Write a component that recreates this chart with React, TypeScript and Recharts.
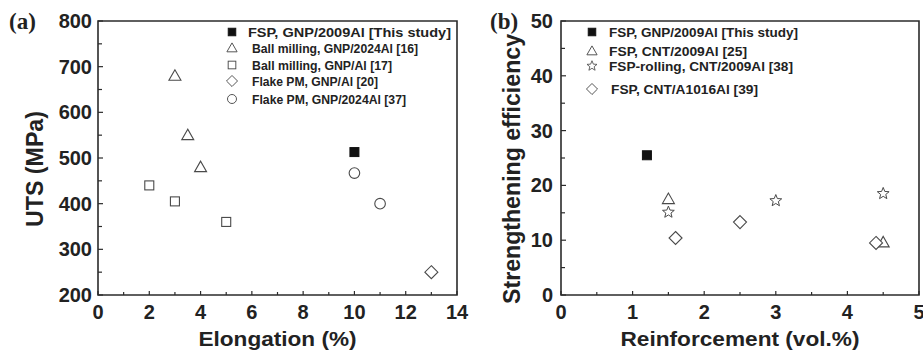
import React from 'react';
import { ScatterChart, Scatter, XAxis, YAxis, ReferenceArea, Legend } from 'recharts';

// ---------- Data: panel (a) ----------
const fspA = [{ x: 10, y: 513 }];
const ballMill2024 = [{ x: 3, y: 680 }, { x: 3.5, y: 550 }, { x: 4, y: 480 }];
const ballMillAl = [{ x: 2, y: 440 }, { x: 3, y: 405 }, { x: 5, y: 360 }];
const flakeAl = [{ x: 13, y: 250 }];
const flake2024 = [{ x: 10, y: 467 }, { x: 11, y: 400 }];
const namesA = [
  'FSP, GNP/2009Al [This study]',
  'Ball milling, GNP/2024Al [16]',
  'Ball milling, GNP/Al [17]',
  'Flake PM, GNP/Al [20]',
  'Flake PM, GNP/2024Al [37]',
];
const xMajorA = [0, 2, 4, 6, 8, 10, 12, 14];
const xMinorA = [1, 3, 5, 7, 9, 11, 13];
const yMajorA = [200, 300, 400, 500, 600, 700, 800];
const yMinorA = [250, 350, 450, 550, 650, 750];

// ---------- Data: panel (b) ----------
const fspB = [{ x: 1.2, y: 25.5 }];
const fspCnt2009 = [{ x: 1.5, y: 17.5 }, { x: 4.5, y: 9.6 }];
const fspRolling = [{ x: 1.5, y: 15.1 }, { x: 3, y: 17.2 }, { x: 4.5, y: 18.5 }];
const fspA1016 = [{ x: 1.6, y: 10.4 }, { x: 2.5, y: 13.3 }, { x: 4.4, y: 9.5 }];
const namesB = [
  'FSP, GNP/2009Al [This study]',
  'FSP, CNT/2009Al [25]',
  'FSP-rolling, CNT/2009Al [38]',
  'FSP, CNT/A1016Al [39]',
];
const xMajorB = [0, 1, 2, 3, 4, 5];
const xMinorB = [0.5, 1.5, 2.5, 3.5, 4.5];
const yMajorB = [0, 10, 20, 30, 40, 50];
const yMinorB = [5, 15, 25, 35, 45];

const FONT = '"Liberation Sans", Arial, Helvetica, sans-serif';
const SERIF = '"Liberation Serif", "Times New Roman", serif';
const INK = '#222';
const AXIS = '#2b2b2b';
const MARK = '#4a4a4a';

// ---------- Marker shapes ----------
type ShapeKind = 'fsquare' | 'square' | 'triangle' | 'diamond' | 'circle' | 'star';

function Marker({ kind, cx, cy }: { kind: ShapeKind; cx: number; cy: number }) {
  const sw = 1.1;
  switch (kind) {
    case 'fsquare':
      return <rect x={cx - 4.5} y={cy - 4.5} width={9} height={9} fill="#111" stroke="#111" />;
    case 'square':
      return <rect x={cx - 4.5} y={cy - 4.5} width={9} height={9} fill="#fff" stroke={MARK} strokeWidth={sw} />;
    case 'triangle':
      return (
        <polygon
          points={`${cx},${cy - 6} ${cx - 6},${cy + 4.5} ${cx + 6},${cy + 4.5}`}
          fill="#fff"
          stroke={MARK}
          strokeWidth={sw}
        />
      );
    case 'diamond':
      return (
        <polygon
          points={`${cx},${cy - 6.5} ${cx + 6.5},${cy} ${cx},${cy + 6.5} ${cx - 6.5},${cy}`}
          fill="#fff"
          stroke={MARK}
          strokeWidth={sw}
        />
      );
    case 'circle':
      return <circle cx={cx} cy={cy} r={5.3} fill="#fff" stroke={MARK} strokeWidth={sw} />;
    case 'star': {
      const pts: string[] = [];
      for (let i = 0; i < 10; i++) {
        const r = i % 2 === 0 ? 6.2 : 2.7;
        const a = -Math.PI / 2 + (i * Math.PI) / 5;
        pts.push(`${cx + r * Math.cos(a)},${cy + r * Math.sin(a)}`);
      }
      return <polygon points={pts.join(' ')} fill="#fff" stroke={MARK} strokeWidth={1} />;
    }
  }
  return null;
}

const shapeOf = (kind: ShapeKind) => (props: any) => <Marker kind={kind} cx={props.cx} cy={props.cy} />;

// ---------- Custom ticks (inward, major + minor) ----------
function XTick(props: any) {
  const { x, y, payload, majors } = props;
  const v = payload.value;
  const isMajor = majors.includes(v);
  return (
    <g>
      <line x1={x} x2={x} y1={y} y2={y - (isMajor ? 4 : 3)} stroke={AXIS} strokeWidth={1.2} />
      {isMajor && (
        <text x={x} y={y + 24} textAnchor="middle" fontFamily={FONT} fontWeight="bold" fontSize={20} fill={INK}>
          {v}
        </text>
      )}
    </g>
  );
}

function YTick(props: any) {
  const { x, y, payload, majors, gap } = props;
  const v = payload.value;
  const isMajor = majors.includes(v);
  return (
    <g>
      <line x1={x} x2={x + (isMajor ? 5 : 4)} y1={y} y2={y} stroke={AXIS} strokeWidth={1.2} />
      {isMajor && (
        <text x={x - gap} y={y + 7} textAnchor="end" fontFamily={FONT} fontWeight="bold" fontSize={20} fill={INK}>
          {v}
        </text>
      )}
    </g>
  );
}

// ---------- Legend ----------
type LegendItem = { name: string; kind: ShapeKind; len: number };

function LegendSvg({
  items,
  symX,
  textX,
  rows,
  w,
  h,
  fs,
}: {
  items: LegendItem[];
  symX: number;
  textX: number[];
  rows: number[];
  w: number;
  h: number;
  fs: number;
}) {
  return (
    <svg width={w} height={h} style={{ position: 'absolute', left: 0, top: 0, overflow: 'visible' }}>
      {items.map((it, i) => (
        <g key={i}>
          <g transform={`translate(${symX}, ${rows[i]}) scale(0.85) translate(${-symX}, ${-rows[i]})`}>
            <Marker kind={it.kind} cx={symX} cy={rows[i]} />
          </g>
          <text
            x={textX[i]}
            y={rows[i] + 4.5}
            fontFamily={FONT}
            fontWeight="bold"
            fontSize={fs}
            fill={INK}
            textLength={it.len}
            lengthAdjust="spacingAndGlyphs"
          >
            {it.name}
          </text>
        </g>
      ))}
    </svg>
  );
}

function YTitle({ vb, dx, dy, text, len, tag, tagX }: any) {
  const cx = vb.x + dx;
  const cy = vb.y + vb.height / 2 + dy;
  return (
    <g>
      <text
        x={cx}
        y={cy}
        transform={`rotate(-90, ${cx}, ${cy})`}
        textAnchor="middle"
        dominantBaseline="central"
        fontFamily={FONT}
        fontWeight="bold"
        fontSize={23}
        fill={INK}
        textLength={len}
        lengthAdjust="spacingAndGlyphs"
      >
        {text}
      </text>
      <text x={vb.x + tagX} y={29} fontFamily={SERIF} fontWeight="bold" fontSize={23} fill={INK}>
        {tag}
      </text>
    </g>
  );
}

function XTitle({ vb, text, len }: any) {
  return (
    <text
      x={vb.x + vb.width / 2}
      y={vb.y + 51}
      textAnchor="middle"
      fontFamily={FONT}
      fontWeight="bold"
      fontSize={20}
      fill={INK}
      textLength={len}
      lengthAdjust="spacingAndGlyphs"
    >
      {text}
    </text>
  );
}

const WA = 480;
const WB = 463;
const H = 357;

function PanelA() {
  const legendItems: LegendItem[] = [
    { name: namesA[0], kind: 'fsquare', len: 203 },
    { name: namesA[1], kind: 'triangle', len: 166 },
    { name: namesA[2], kind: 'square', len: 140 },
    { name: namesA[3], kind: 'diamond', len: 126 },
    { name: namesA[4], kind: 'circle', len: 154 },
  ];
  return (
    <ScatterChart width={WA} height={H} margin={{ top: 21, right: WA - 457, bottom: 0, left: 0 }}>
      <XAxis
        type="number"
        dataKey="x"
        domain={[0, 14]}
        ticks={[...xMajorA, ...xMinorA].sort((a, b) => a - b)}
        interval={0}
        tickSize={0}
        tickMargin={0}
        tickLine={false}
        axisLine={false}
        height={62}
        allowDataOverflow
        tick={(p: any) => <XTick {...p} majors={xMajorA} />}
        label={{ content: (p: any) => <XTitle vb={p.viewBox} text="Elongation (%)" len={158} /> }}
      />
      <YAxis
        type="number"
        dataKey="y"
        domain={[200, 800]}
        ticks={[...yMajorA, ...yMinorA].sort((a, b) => a - b)}
        interval={0}
        tickSize={0}
        tickMargin={0}
        tickLine={false}
        axisLine={false}
        width={98}
        allowDataOverflow
        tick={(p: any) => <YTick {...p} majors={yMajorA} gap={6} />}
        label={{
          content: (p: any) => (
            <YTitle vb={p.viewBox} dx={35} dy={11} text="UTS (MPa)" len={116} tag="(a)" tagX={9} />
          ),
        }}
      />
      <ReferenceArea x1={0} x2={14} y1={200} y2={800} fill="none" stroke={AXIS} strokeWidth={1.6} ifOverflow="visible" />
      <Scatter name={namesA[1]} data={ballMill2024} shape={shapeOf('triangle')} isAnimationActive={false} />
      <Scatter name={namesA[2]} data={ballMillAl} shape={shapeOf('square')} isAnimationActive={false} />
      <Scatter name={namesA[3]} data={flakeAl} shape={shapeOf('diamond')} isAnimationActive={false} />
      <Scatter name={namesA[4]} data={flake2024} shape={shapeOf('circle')} isAnimationActive={false} />
      <Scatter name={namesA[0]} data={fspA} shape={shapeOf('fsquare')} isAnimationActive={false} />
      <Legend
        layout="vertical"
        align="center"
        verticalAlign="middle"
        wrapperStyle={{ position: 'absolute', left: 0, top: 0, width: WA, height: H, pointerEvents: 'none' }}
        content={() => (
          <LegendSvg
            items={legendItems}
            symX={232}
            textX={[248, 252, 252, 252, 252]}
            rows={[32, 48, 65, 81, 99]}
            w={WA}
            h={H}
            fs={13}
          />
        )}
      />
    </ScatterChart>
  );
}

function PanelB() {
  const legendItems: LegendItem[] = [
    { name: namesB[0], kind: 'fsquare', len: 189 },
    { name: namesB[1], kind: 'triangle', len: 138 },
    { name: namesB[2], kind: 'star', len: 184 },
    { name: namesB[3], kind: 'diamond', len: 147 },
  ];
  return (
    <ScatterChart width={WB} height={H} margin={{ top: 21, right: WB - 459, bottom: 0, left: 0 }}>
      <XAxis
        type="number"
        dataKey="x"
        domain={[0, 5]}
        ticks={[...xMajorB, ...xMinorB].sort((a, b) => a - b)}
        interval={0}
        tickSize={0}
        tickMargin={0}
        tickLine={false}
        axisLine={false}
        height={62}
        allowDataOverflow
        tick={(p: any) => <XTick {...p} majors={xMajorB} />}
        label={{ content: (p: any) => <XTitle vb={p.viewBox} text="Reinforcement (vol.%)" len={239} /> }}
      />
      <YAxis
        type="number"
        dataKey="y"
        domain={[0, 50]}
        ticks={[...yMajorB, ...yMinorB].sort((a, b) => a - b)}
        interval={0}
        tickSize={0}
        tickMargin={0}
        tickLine={false}
        axisLine={false}
        width={101}
        allowDataOverflow
        tick={(p: any) => <YTick {...p} majors={yMajorB} gap={8} />}
        label={{
          content: (p: any) => (
            <YTitle
              vb={p.viewBox}
              dx={52}
              dy={11}
              text="Strengthening efficiency"
              len={270}
              tag="(b)"
              tagX={30}
            />
          ),
        }}
      />
      <ReferenceArea x1={0} x2={5} y1={0} y2={50} fill="none" stroke={AXIS} strokeWidth={1.6} ifOverflow="visible" />
      <Scatter name={namesB[1]} data={fspCnt2009} shape={shapeOf('triangle')} isAnimationActive={false} />
      <Scatter name={namesB[2]} data={fspRolling} shape={shapeOf('star')} isAnimationActive={false} />
      <Scatter name={namesB[3]} data={fspA1016} shape={shapeOf('diamond')} isAnimationActive={false} />
      <Scatter name={namesB[0]} data={fspB} shape={shapeOf('fsquare')} isAnimationActive={false} />
      <Legend
        layout="vertical"
        align="center"
        verticalAlign="middle"
        wrapperStyle={{ position: 'absolute', left: 0, top: 0, width: WB, height: H, pointerEvents: 'none' }}
        content={() => (
          <LegendSvg
            items={legendItems}
            symX={132}
            textX={[149, 149, 149, 151]}
            rows={[32, 51, 66, 89]}
            w={WB}
            h={H}
            fs={13}
          />
        )}
      />
    </ScatterChart>
  );
}

export default function App() {
  return (
    <div style={{ position: 'absolute', left: 0, top: 0, width: 923, height: 357, background: '#fff', overflow: 'hidden' }}>
      <div style={{ position: 'absolute', left: 0, top: 0 }}>
        <PanelA />
      </div>
      <div style={{ position: 'absolute', left: 460, top: 0 }}>
        <PanelB />
      </div>
    </div>
  );
}
